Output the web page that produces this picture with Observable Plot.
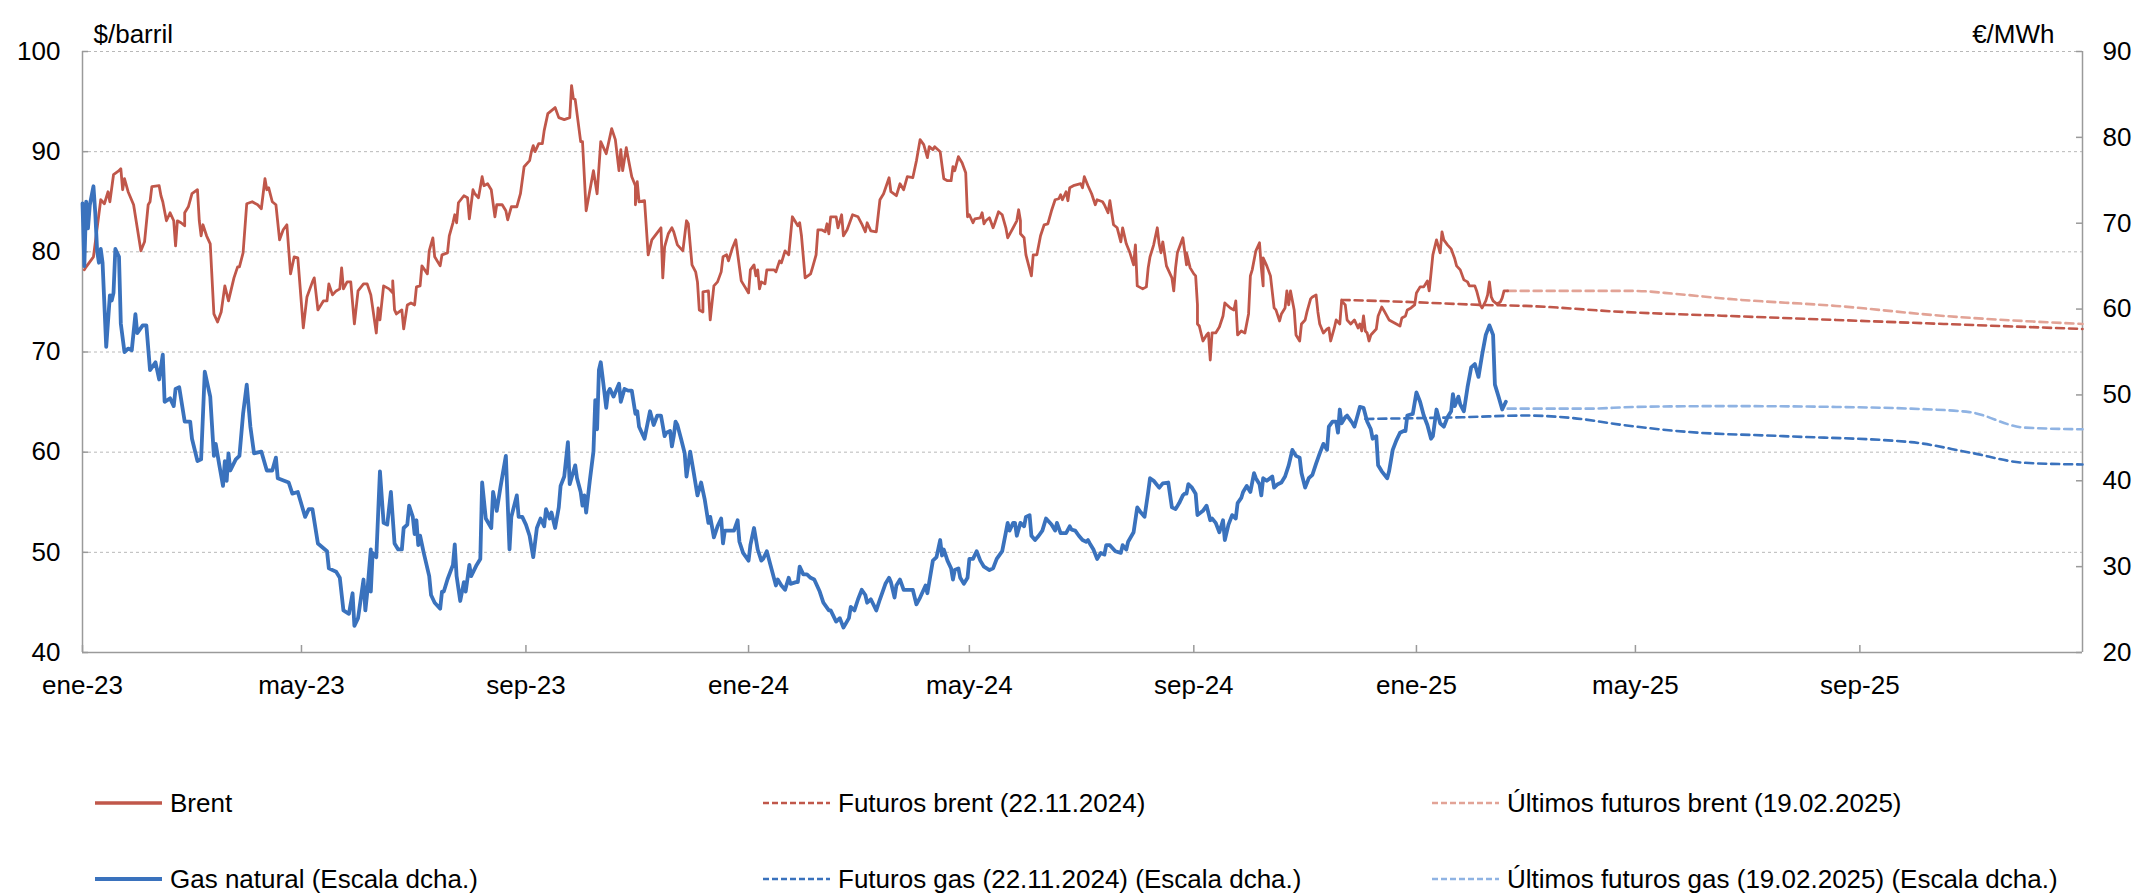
<!DOCTYPE html>
<html><head><meta charset="utf-8">
<script src="https://cdn.jsdelivr.net/npm/d3@7"></script>
<script src="https://cdn.jsdelivr.net/npm/@observablehq/plot@0.6"></script>
<style>
body{margin:0;background:#fff;font-family:"Liberation Sans",Arial,sans-serif;color:#000;}
#wrap{position:relative;width:2140px;height:894px;overflow:hidden;}
.leg{position:absolute;display:flex;align-items:center;height:30px;font-size:26px;white-space:nowrap;}
.leg svg{margin-right:8px;flex:none;}
</style></head><body><div id="wrap"><div id="chart"></div></div>
<script>
// ---- data (day = days since 1 Jan 2023) ----
const brentSeries = [[1,78.2],[2,78.5],[6,79.5],[10,85.2],[12,84.8],[14,86.0],[15,85.0],[17,87.7],[20,88.1],[21,88.3],[22,86.2],[23,87.3],[25,86.0],[28,84.7],[30,82.4],[32,80.1],[34,81.0],[36,84.7],[37,85.0],[38,86.5],[42,86.6],[43,85.6],[44,85.0],[46,83.1],[48,83.9],[50,83.1],[51,80.6],[52,83.1],[54,82.9],[56,82.6],[56,83.9],[58,84.5],[60,85.8],[63,86.2],[64,83.1],[65,81.6],[66,82.7],[68,81.6],[70,80.8],[72,73.8],[74,73.0],[76,74.0],[78,76.6],[80,75.1],[83,77.4],[85,78.5],[86,78.5],[88,79.9],[90,84.8],[93,85.0],[96,84.7],[98,84.3],[100,87.3],[101,86.2],[102,86.4],[104,85.0],[106,84.7],[108,81.2],[110,82.2],[112,82.7],[114,77.8],[116,79.5],[118,79.4],[121,72.4],[123,75.5],[126,77.0],[127,77.4],[129,74.2],[132,75.1],[134,75.1],[135,76.8],[137,75.7],[139,76.1],[141,76.3],[142,78.4],[143,76.3],[145,77.0],[147,77.0],[149,72.8],[151,76.1],[154,76.8],[156,76.8],
[158,75.7],[161,71.9],[162,74.4],[163,73.2],[165,76.6],[168,76.3],[170,75.9],[170,77.1],[171,74.2],[172,73.8],[175,74.2],[176,72.3],[178,74.7],[180,74.9],[182,74.7],[183,76.5],[185,76.6],[186,78.6],[189,77.8],[190,80.1],[192,81.4],[193,79.5],[196,78.6],[197,79.7],[200,79.9],[201,81.6],[203,82.9],[204,83.7],[205,82.9],[206,84.9],[209,85.6],[211,85.4],[212,83.3],[214,86.2],[215,85.8],[217,85.4],[219,87.5],[220,86.6],[222,86.8],[224,86.2],[226,83.5],[227,84.7],[230,84.7],[232,84.1],[233,83.2],[235,84.5],[238,84.5],[240,85.8],[242,88.5],[245,89.1],[246,90.0],[247,90.6],[248,90.0],[250,90.8],[252,90.8],[253,92.1],[255,93.8],[259,94.4],[261,93.4],[264,93.2],[267,93.4],[268,96.6],[269,95.3],[270,95.2],[273,91.0],[274,91.0],[276,84.1],[280,88.1],[282,85.8],[284,91.0],[287,89.8],[290,92.3],[292,91.2],[294,88.1],[295,90.2],[296,88.1],[298,90.4],[299,89.4],[301,87.5],[303,86.6],[303,84.7],[304,87.0],[305,85.0],[308,85.1],[310,79.7],[312,81.2],
[317,82.4],[318,77.4],[319,80.5],[321,81.8],[323,82.4],[324,82.0],[326,80.7],[328,80.3],[329,80.1],[331,83.1],[332,82.8],[334,78.7],[336,78.0],[337,77.0],[338,74.2],[340,74.0],[340,76.0],[343,76.1],[344,73.2],[346,76.6],[348,77.0],[350,78.0],[351,79.5],[353,79.7],[354,79.1],[356,80.3],[358,81.2],[361,77.1],[363,76.5],[365,75.9],[366,78.2],[368,78.7],[369,77.6],[370,78.2],[371,76.3],[372,77.0],[374,76.8],[375,78.2],[379,78.2],[380,78.0],[382,79.1],[383,78.9],[385,80.1],[387,79.7],[389,83.5],[391,82.9],[392,82.6],[393,82.9],[394,81.6],[396,77.4],[399,77.8],[400,78.4],[402,79.7],[403,82.2],[405,82.2],[407,82.0],[408,82.8],[409,81.8],[410,83.5],[413,83.5],[414,82.4],[416,83.7],[417,81.6],[419,82.2],[422,83.7],[425,83.5],[427,82.8],[429,82.0],[430,82.9],[432,82.1],[435,82.0],[437,85.2],[439,85.8],[442,87.4],[443,86.0],[446,85.6],[448,86.8],[450,86.2],[452,87.5],[455,87.4],[457,89.1],[459,91.2],[461,90.7],[463,89.4],[464,90.5],[466,90.2],[467,90.5],[470,90.0],[472,87.3],[474,87.1],
[476,87.1],[477,88.5],[478,88.1],[480,89.5],[482,88.9],[484,87.9],[485,83.5],[486,83.7],[488,82.9],[489,83.3],[492,83.4],[493,83.9],[494,82.8],[495,83.1],[497,83.4],[499,82.4],[500,82.9],[502,84.0],[504,83.7],[506,82.4],[507,81.4],[510,82.4],[512,83.1],[513,84.2],[514,83.1],[514,81.8],[516,81.4],[517,79.7],[520,77.6],[521,79.7],[523,79.7],[525,81.6],[527,82.7],[529,82.8],[531,84.1],[533,85.2],[535,85.3],[536,85.7],[537,85.2],[538,85.6],[539,86.0],[540,85.1],[541,86.4],[543,86.6],[547,86.8],[548,86.4],[549,87.5],[551,86.6],[553,85.8],[555,84.7],[556,85.2],[559,85.0],[560,84.7],[562,83.9],[563,85.1],[565,82.7],[567,82.4],[569,81.0],[570,82.4],[572,80.8],[574,79.9],[576,78.7],[577,80.7],[578,76.6],[581,76.3],[583,76.5],[584,78.4],[585,79.5],[587,80.7],[589,82.4],[590,80.8],[591,79.9],[592,81.0],[594,78.6],[597,77.4],[598,76.1],[599,78.4],[600,79.9],[603,81.4],[605,78.7],[605,79.9],[607,78.4],[609,77.8],[610,77.6],[611,74.7],[611,72.8],[612,72.6],[614,71.1],[616,71.7],[617,71.9],[618,69.2],[619,71.9],[621,71.9],[623,72.5],[625,73.6],[626,74.9],[629,74.4],[631,74.2],[632,75.1],[633,71.7],
[635,72.1],[637,71.9],[639,73.8],[640,77.6],[641,78.2],[643,80.1],[645,80.9],[646,78.4],[647,76.6],[647,79.4],[649,78.6],[651,77.6],[653,74.4],[654,74.2],[656,73.1],[657,73.8],[659,74.4],[660,76.1],[661,74.7],[662,76.1],[664,74.2],[665,71.7],[667,71.1],[668,72.8],[670,73.2],[671,74.0],[673,75.3],[674,75.5],[676,75.7],[677,74.0],[678,72.8],[680,71.9],[682,72.3],[683,72.4],[684,71.1],[686,72.4],[687,73.2],[689,72.8],[690,75.1],[692,74.7],[693,73.2],[695,72.8],[697,73.2],[699,72.4],[700,72.8],[701,72.1],[702,73.6],[703,72.1],[704,71.9],[705,71.1],[706,71.7],[708,72.1],[709,72.3],[710,73.6],[712,74.5],[713,74.2],[716,73.2],[718,73.0],[720,72.8],[722,72.6],[723,73.4],[725,73.6],[726,74.2],[728,74.4],[730,74.7],[731,75.9],[733,76.5],[735,76.5],[737,77.1],[738,76.1],[740,79.7],[742,81.2],[744,79.9],[745,82.0],[746,81.2],[748,80.7],[750,80.3],[752,79.3],[753,78.6],[755,78.2],[757,77.2],[759,77.0],[760,76.6],[763,76.6],[764,76.1],[766,74.7],[767,74.4],[769,75.1],[770,75.7],[771,77.0],[772,75.5],[773,75.1],[775,74.8],[777,75.0],[778,75.4],[779,76.1],[781,76.1]];

// Gas natural, €/MWh (right scale)
const gasSeries = [[0,72.3],[1,65.0],[2,72.5],[3,69.4],[4,72.1],[6,74.3],[7,71.2],[8,66.8],[9,65.4],[10,67.0],[11,65.4],[13,55.6],[15,61.6],[16,61.0],[17,61.9],[18,67.0],[20,66.1],[21,58.3],[23,55.0],[25,55.4],[27,55.2],[29,59.4],[30,57.2],[33,58.1],[35,58.1],[37,52.9],[40,53.8],[42,51.8],[44,54.7],[45,49.2],[48,49.6],[50,48.7],[51,50.7],[53,50.9],[56,46.9],[59,46.9],[60,44.9],[63,42.3],[65,42.5],[67,52.7],[70,49.8],[72,42.9],[73,44.3],[75,41.8],[77,39.4],[78,42.3],[79,40.0],[80,43.2],[81,41.2],[84,42.5],[86,42.9],[88,47.8],[90,51.2],[92,46.3],[94,43.2],[98,43.4],[101,41.2],[104,41.2],[106,42.7],[107,40.3],[113,39.8],[115,38.5],[118,38.7],[122,35.8],[124,36.7],[126,36.7],[129,32.7],[134,31.8],[135,29.8],[139,29.4],[141,28.7],[143,24.9],[146,24.5],[148,26.9],[149,23.1],[151,24.0],[154,28.5],[155,24.9],[156,26.9],
[158,32.0],[158,27.1],[159,31.6],[161,31.1],[163,41.1],[165,35.1],[167,34.9],[169,38.7],[171,32.7],[173,32.0],[175,32.0],[176,34.5],[178,34.9],[179,37.1],[181,35.8],[182,33.8],[183,35.4],[184,32.5],[185,33.6],[187,31.6],[190,28.9],[191,26.7],[193,25.8],[196,25.1],[197,27.1],[198,27.1],[200,28.5],[203,30.2],[204,32.6],[205,28.9],[207,26.0],[209,28.2],[210,27.1],[212,30.2],[213,28.9],[216,30.2],[218,30.9],[219,39.8],[221,35.6],[224,34.5],[225,38.7],[227,36.5],[229,39.2],[232,42.9],[234,32.0],[235,35.8],[238,38.3],[239,35.8],[241,35.8],[243,34.9],[245,33.6],[247,31.1],[249,34.5],[251,35.6],[253,34.7],[254,36.7],[256,35.6],[257,36.3],[259,34.5],[261,36.9],[262,39.4],[264,40.5],[266,44.5],[267,39.6],[270,41.8],[271,40.3],[273,38.7],[274,37.1],[275,38.3],[276,36.3],[278,40.0],[280,43.4],[281,49.4],[282,46.0],[283,52.9],[284,53.8],[285,52.1],[287,48.5],[288,50.3],[289,50.7],[291,49.8],[294,51.3],[295,49.2],[297,50.7],[299,50.5],[301,50.5],[303,47.8],[304,48.1],[305,46.3],[308,44.9],[309,46.0],[311,48.1],[313,46.5],[315,47.6],
[317,47.6],[319,45.2],[320,45.6],[322,45.8],[323,44.0],[324,45.2],[325,46.9],[326,46.5],[328,44.9],[330,43.2],[331,40.5],[333,43.4],[335,40.9],[337,38.3],[339,39.8],[341,37.8],[343,35.1],[344,35.8],[346,33.4],[348,34.7],[350,35.6],[351,32.7],[352,34.2],[354,34.2],[357,34.2],[359,35.4],[360,32.9],[362,31.6],[365,30.7],[366,32.5],[368,34.5],[370,32.0],[372,30.7],[373,30.9],[375,31.8],[377,30.2],[380,27.8],[381,28.5],[383,27.8],[385,27.3],[387,28.7],[388,28.0],[391,28.2],[392,28.2],[393,30.0],[395,29.1],[397,29.1],[399,28.7],[401,28.5],[404,27.1],[406,25.8],[409,24.9],[410,24.9],[413,23.6],[415,24.0],[417,22.9],[420,24.0],[421,25.3],[423,24.9],[425,26.2],[427,27.3],[429,26.7],[430,25.8],[432,26.2],[435,24.9],[437,26.2],[440,28.0],[442,28.7],[443,28.2],[445,26.4],[446,27.8],[448,28.5],[450,27.3],[452,27.3],[455,27.3],[457,25.6],[459,26.4],[462,27.8],[463,26.9],[466,30.7],[468,31.1],[470,33.1],[471,31.3],[472,32.0],[474,30.7],
[476,29.8],[477,28.5],[478,29.6],[480,29.8],[481,28.7],[483,28.0],[485,28.7],[486,30.9],[488,30.9],[490,31.8],[492,30.7],[494,30.0],[497,29.6],[499,29.8],[501,30.9],[504,31.8],[506,34.0],[507,35.1],[508,34.2],[510,35.1],[511,35.1],[512,33.6],[514,35.1],[516,34.7],[517,35.8],[519,36.0],[520,33.6],[522,33.1],[524,33.6],[526,34.2],[528,35.6],[531,34.9],[533,34.2],[534,35.1],[536,33.9],[539,33.9],[541,34.7],[542,34.3],[544,34.2],[546,33.6],[548,33.1],[550,32.9],[551,33.1],[552,32.7],[554,32.0],[556,30.9],[558,31.6],[560,31.4],[561,32.5],[563,32.5],[566,31.8],[569,31.6],[570,32.5],[572,32.0],[573,32.9],[576,34.0],[578,36.9],[580,36.3],[582,35.8],[584,38.7],[585,40.3],[587,40.0],[590,39.2],[592,39.7],[595,39.8],[597,36.9],[599,36.7],[601,37.4],[603,38.3],[604,38.5],[605,38.5],[606,39.6],[608,39.2],[610,38.5],[611,36.0],[614,36.5],[616,37.1],[618,35.4],[619,35.6],[621,35.1],[623,34.0],[625,35.4],[626,33.1],[628,34.9],[630,36.0],[632,35.6],[633,37.4],
[635,38.0],[636,38.7],[638,39.4],[640,38.7],[642,40.9],[643,40.3],[645,39.6],[646,38.3],[647,40.3],[649,40.0],[652,40.5],[653,39.2],[655,39.6],[657,39.8],[659,40.5],[661,41.8],[663,43.6],[665,42.9],[667,42.7],[668,40.9],[670,39.2],[672,40.3],[674,40.7],[676,42.0],[678,43.2],[680,44.3],[682,43.6],[683,46.3],[685,46.9],[687,46.9],[688,45.6],[689,48.3],[690,46.7],[692,47.4],[693,47.6],[696,46.7],[697,46.3],[699,47.8],[700,48.6],[702,48.5],[704,46.9],[706,46.0],[707,44.9],[709,45.2],[710,41.8],[712,41.1],[715,40.3],[716,41.1],[718,43.6],[720,44.7],[722,45.6],[724,45.8],[725,45.8],[726,47.6],[729,47.8],[731,50.3],[733,49.2],[735,47.6],[737,46.5],[739,44.9],[740,45.2],[742,48.3],[744,46.7],[746,46.3],[748,47.4],[750,48.1],[751,50.1],[752,48.7],[754,49.8],[755,48.9],[757,48.1],[759,50.9],[761,53.2],[763,53.6],[765,52.1],[767,54.7],[769,57.0],[771,58.1],[773,57.0],[774,51.2],[776,49.8],[778,48.3],[780,49.2]];

const futBrentSeries = [[690,75.2],[726,75.0],[767,74.7],[791,74.6],[844,74.0],[902,73.6],[961,73.2],[1020,72.8],[1096,72.3]];
const lastFutBrentSeries = [[781,76.1],[850,76.1],[873,75.8],[902,75.3],[961,74.6],[1020,73.6],[1096,72.8]];
const futGasSeries = [[703,47.2],[756,47.4],[791,47.6],[817,47.3],[844,46.5],[879,45.7],[932,45.2],[1002,44.5],[1034,43.3],[1064,42.1],[1096,41.9]];
const lastFutGasSeries = [[781,48.4],[826,48.4],[850,48.6],[902,48.7],[961,48.6],[1002,48.4],[1034,48.0],[1064,46.2],[1096,46.0]];

const leftTicks = [40, 50, 60, 70, 80, 90, 100];
const rightTicks = [20, 30, 40, 50, 60, 70, 80, 90];
const xTickDates = ["2023-01-01","2023-05-01","2023-09-01","2024-01-01","2024-05-01","2024-09-01","2025-01-01","2025-05-01","2025-09-01"];
const xTickLabels = ["ene-23","may-23","sep-23","ene-24","may-24","sep-24","ene-25","may-25","sep-25"];
const leftUnit = "$/barril";
const rightUnit = "€/MWh";

const seriesNames = ["Brent","Futuros brent (22.11.2024)","Últimos futuros brent (19.02.2025)","Gas natural (Escala dcha.)","Futuros gas (22.11.2024) (Escala dcha.)","Últimos futuros gas (19.02.2025) (Escala dcha.)"];
const seriesColors = ["#c0574a","#c0574a","#e2a396","#3a72bd","#3a72bd","#8fb3e3"];

// ---- chart ----
const start = new Date(Date.UTC(2023, 0, 1));
const end = new Date(Date.UTC(2026, 0, 1));
const toDate = d => d3.utcDay.offset(start, d);
const gasToLeft = v => 40 + (v - 20) * 60 / 70;
const leftToGas = y => 20 + (y - 40) * 70 / 60;
const mk = arr => arr.map(([d, v]) => ({date: toDate(d), value: v}));
const mkGas = arr => arr.map(([d, v]) => ({date: toDate(d), value: gasToLeft(v)}));

const brent = mk(brentSeries), gas = mkGas(gasSeries);
const futBrent = mk(futBrentSeries), lastFutBrent = mk(lastFutBrentSeries);
const futGas = mkGas(futGasSeries), lastFutGas = mkGas(lastFutGasSeries);
const xTicks = xTickDates.map(s => new Date(s + "T00:00:00Z"));
const xLabel = new Map(xTicks.map((d, i) => [+d, xTickLabels[i]]));

const axisColor = "#9a9a9a";
const W = 2140, H = 740, mL = 82, mR = 58, mT = 51, mB = 88;
const frameW = W - mL - mR, frameH = H - mT - mB;

const chart = Plot.plot({
  width: W, height: H,
  marginTop: mT, marginBottom: mB, marginLeft: mL, marginRight: mR,
  style: {fontFamily: '"Liberation Sans", Arial, sans-serif', fontSize: "26px", color: "#000", background: "#fff", overflow: "visible"},
  x: {type: "utc", domain: [start, end]},
  y: {domain: [40, 100]},
  marks: [
    Plot.ruleY(leftTicks.filter(t => t > 40), {stroke: "#b8b8b8", strokeDasharray: "3,3", strokeWidth: 1}),
    Plot.ruleX([start], {stroke: axisColor, strokeWidth: 1.5}),
    Plot.ruleX([end], {stroke: axisColor, strokeWidth: 1.5}),
    Plot.ruleY([40], {stroke: axisColor, strokeWidth: 1.5}),
    Plot.tickY(leftTicks, {y: d => d, insetRight: frameW - 6, stroke: axisColor, strokeWidth: 1.5}),
    Plot.tickY(rightTicks.map(gasToLeft), {y: d => d, insetLeft: frameW - 6, stroke: axisColor, strokeWidth: 1.5}),
    Plot.tickX(xTicks, {x: d => d, insetTop: frameH - 7, stroke: axisColor, strokeWidth: 1.5}),
    Plot.axisY({anchor: "left", ticks: leftTicks, tickSize: 0, tickPadding: 22, label: null}),
    Plot.axisY({anchor: "right", ticks: rightTicks.map(gasToLeft), tickFormat: d => String(Math.round(leftToGas(d))), tickSize: 0, tickPadding: 20, label: null}),
    Plot.axisX({ticks: xTicks, tickFormat: d => xLabel.get(+d), tickSize: 0, tickPadding: 23, label: null}),
    Plot.text([leftUnit], {frameAnchor: "top-left", text: d => d, dx: 11, dy: -27, textAnchor: "start"}),
    Plot.text([rightUnit], {frameAnchor: "top-right", text: d => d, dx: -28, dy: -27, textAnchor: "end"}),
    Plot.line(lastFutBrent, {x: "date", y: "value", stroke: seriesColors[2], strokeWidth: 2.6, strokeDasharray: "8,5", curve: "monotone-x"}),
    Plot.line(futBrent, {x: "date", y: "value", stroke: seriesColors[1], strokeWidth: 2.6, strokeDasharray: "8,5", curve: "monotone-x"}),
    Plot.line(lastFutGas, {x: "date", y: "value", stroke: seriesColors[5], strokeWidth: 2.6, strokeDasharray: "8,5", curve: "monotone-x"}),
    Plot.line(futGas, {x: "date", y: "value", stroke: seriesColors[4], strokeWidth: 2.6, strokeDasharray: "8,5", curve: "monotone-x"}),
    Plot.line(brent, {x: "date", y: "value", stroke: seriesColors[0], strokeWidth: 2.8, strokeLinejoin: "round"}),
    Plot.line(gas, {x: "date", y: "value", stroke: seriesColors[3], strokeWidth: 3.8, strokeLinejoin: "round"})
  ]
});
const wrap = document.getElementById("wrap");
document.getElementById("chart").appendChild(chart);

// ---- legend (below the SVG) ----
const legendCols = [95, 763, 1432];
const legendRows = [803, 879];
const legendDashed = [false, true, true, false, true, true];
const legendWidth = [3.5, 2.6, 2.6, 4.2, 2.6, 2.6];
seriesNames.forEach((name, i) => {
  const col = i % 3, row = Math.floor(i / 3);
  const div = document.createElement("div");
  div.className = "leg";
  div.style.left = legendCols[col] + "px";
  div.style.top = (legendRows[row] - 15) + "px";
  const dash = legendDashed[i] ? ' stroke-dasharray="6,3"' : '';
  div.innerHTML = `<svg width="67" height="10"><line x1="0" x2="67" y1="5" y2="5" stroke="${seriesColors[i]}" stroke-width="${legendWidth[i]}"${dash}/></svg><span>${name}</span>`;
  wrap.appendChild(div);
});
</script></body></html>
